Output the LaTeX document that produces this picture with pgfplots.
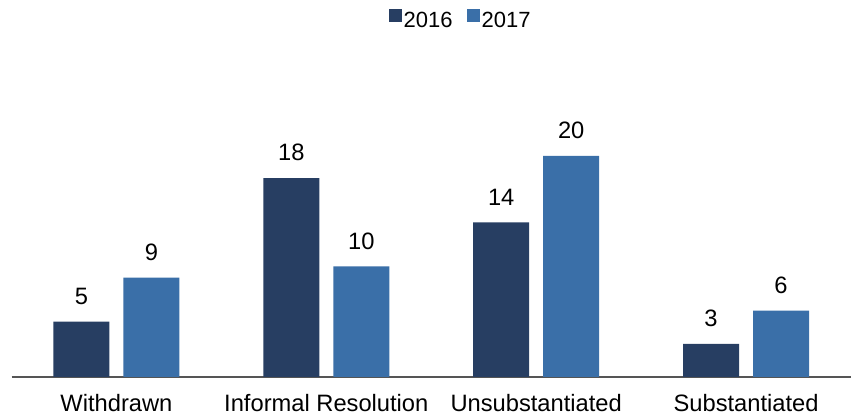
\documentclass[border=0pt]{standalone}
\usepackage{pgfplots}
\pgfplotsset{compat=1.18}
\usepackage{fontspec}
\setmainfont{Liberation Sans}
\definecolor{c2016}{HTML}{273E62}
\definecolor{c2017}{HTML}{3A6FA8}
\definecolor{axgray}{HTML}{555555}
\begin{document}
\begin{tikzpicture}
\useasboundingbox (0,0) rectangle (853bp,417bp);
\begin{axis}[
  at={(11.5bp,40bp)}, anchor=south west,
  scale only axis, width=839.5bp, height=331.5bp,
  xmin=-0.5, xmax=3.5, ymin=0, ymax=30,
  ybar=14bp, bar width=56bp,
  axis x line=bottom, axis y line=none,
  x axis line style={-, draw=axgray, line width=1.5bp},
  xtick={0,1,2,3}, major tick length=0pt,
  xticklabels={Withdrawn, Informal Resolution, Unsubstantiated, Substantiated},
  xticklabel style={font=\fontsize{23.7bp}{28bp}\selectfont, text=black, yshift=-14bp},
  ytick=\empty,
  /pgf/number format/assume math mode=true,
  nodes near coords,
  every node near coord/.append style={font=\fontsize{23.7bp}{28bp}\selectfont, text=black, yshift=13.5bp},
  legend columns=2,
  legend style={draw=none, fill=none, at={(0.535,1.077)}, anchor=center,
    font=\fontsize{22bp}{26bp}\selectfont,
    /tikz/every even column/.append style={column sep=12bp},
    inner sep=0pt},
  legend image code/.code={\fill[#1,draw=none] (0bp,-1bp) rectangle (13bp,12bp);},
]
\addplot[fill=c2016, draw=none] coordinates {(0,5) (1,18) (2,14) (3,3)};
\addplot[fill=c2017, draw=none] coordinates {(0,9) (1,10) (2,20) (3,6)};
\legend{2016, 2017}
\end{axis}
\end{tikzpicture}
\end{document}
